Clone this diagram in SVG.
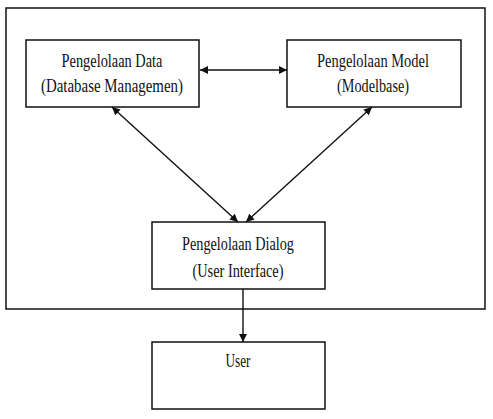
<svg xmlns="http://www.w3.org/2000/svg" width="493" height="419" viewBox="0 0 493 419">
<style>
.box{fill:#fff;stroke:#111;stroke-width:1.5}
.t{font-family:"Liberation Serif","Times New Roman",serif;font-size:18px;fill:#111;text-anchor:middle}
.c{stroke:#111;stroke-width:1.4;fill:none}
</style>
<defs>
<marker id="a" viewBox="0 0 10 10" refX="10" refY="5" markerWidth="8" markerHeight="8" markerUnits="userSpaceOnUse" orient="auto-start-reverse">
<path d="M0,0 L10,5 L0,10 z" fill="#111"/>
</marker>
</defs>
<rect x="0" y="0" width="493" height="419" fill="#fff"/>
<rect id="frame" x="6" y="8" width="479" height="301" class="box"/>
<g id="data">
<rect x="26" y="40" width="173" height="67" class="box"/>
<text class="t" x="112" y="66.5" textLength="101" lengthAdjust="spacingAndGlyphs">Pengelolaan Data</text>
<text class="t" x="112" y="91.5" textLength="142" lengthAdjust="spacingAndGlyphs">(Database Managemen)</text>
</g>
<g id="model">
<rect x="287" y="40" width="174" height="67" class="box"/>
<text class="t" x="373" y="66.5" textLength="112" lengthAdjust="spacingAndGlyphs">Pengelolaan Model</text>
<text class="t" x="373" y="91.5" textLength="72" lengthAdjust="spacingAndGlyphs">(Modelbase)</text>
</g>
<g id="dialog">
<rect x="152" y="222" width="173" height="67" class="box"/>
<text class="t" x="238" y="250" textLength="112" lengthAdjust="spacingAndGlyphs">Pengelolaan Dialog</text>
<text class="t" x="238" y="276.5" textLength="91" lengthAdjust="spacingAndGlyphs">(User Interface)</text>
</g>
<g id="user">
<rect x="152" y="342" width="173" height="67" class="box"/>
<text class="t" x="238" y="367" textLength="25" lengthAdjust="spacingAndGlyphs">User</text>
</g>
<g id="connectors">
<line class="c" x1="200" y1="70" x2="287" y2="70" marker-start="url(#a)" marker-end="url(#a)"/>
<line class="c" x1="112" y1="107" x2="238" y2="222" marker-start="url(#a)" marker-end="url(#a)"/>
<line class="c" x1="372" y1="107" x2="246" y2="222" marker-start="url(#a)" marker-end="url(#a)"/>
<line class="c" x1="243" y1="289" x2="243" y2="342" marker-end="url(#a)"/>
</g>
</svg>
